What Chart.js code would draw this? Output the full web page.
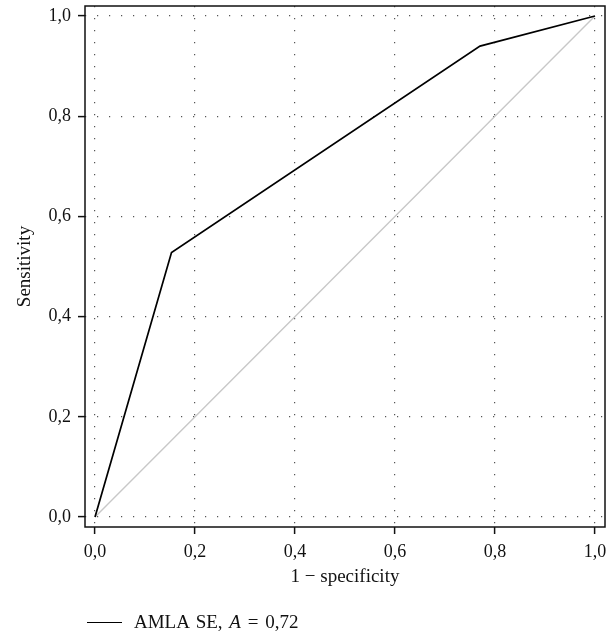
<!DOCTYPE html>
<html>
<head>
<meta charset="utf-8">
<script src="https://cdn.jsdelivr.net/npm/chart.js@4"></script>
<style>
  body { margin: 0; background: #fff; }
  #wrap { position: relative; width: 616px; height: 637px; }
  #legend {
    position: absolute; left: 87px; top: 611px;
    font: 19px "Liberation Serif", serif; color: #111;
    display: flex; align-items: center; word-spacing: 2px;
  }
  #legend .swatch { display: inline-block; width: 35px; border-top: 1.5px solid #000; margin-right: 12px; }
</style>
</head>
<body>
<div id="wrap">
  <canvas id="roc" width="616" height="637"></canvas>
  <div id="legend"></div>
</div>
<script>
// ROC curve points
const fpr = [0, 0.153, 0.77, 1.0]
const tpr = [0, 0.528, 0.94, 1.0]
// chance diagonal
const diagX = [0, 1]
const diagY = [0, 1]
const tickValues = [0, 0.2, 0.4, 0.6, 0.8, 1.0]
const seriesLabel = "AMLA SE"
const aucText = "0,72"
const xTitle = "1 − specificity"
const yTitle = "Sensitivity"

const tickFont = { family: "'Liberation Serif', serif", size: 18 }
const titleFont = { family: "'Liberation Serif', serif", size: 19 }

function fmt(v) {
    return v.toFixed(1).replace('.', ',')
}

function toPoints(xs, ys) {
    return xs.map((x, i) => ({ x: x, y: ys[i] }))
}

// draw the full box round the plot area
const boxPlugin = {
    id: 'box',
    afterDraw(chart) {
        const a = chart.chartArea
        const c = chart.ctx
        c.save()
        c.strokeStyle = '#111'
        c.lineWidth = 1.5
        c.strokeRect(a.left, a.top, a.right - a.left, a.bottom - a.top)
        c.restore()
    }
}

function axis(title, titlePadding, fit) {
    return {
        type: 'linear',
        min: -0.02,
        max: 1.02,
        afterBuildTicks: (s) => { s.ticks = tickValues.map(v => ({ value: v })) },
        afterFit: fit,
        ticks: {
            callback: (v) => fmt(v),
            color: '#111',
            font: tickFont,
            padding: 7
        },
        grid: {
            color: '#555',
            lineWidth: 1.2,
            tickColor: '#111',
            tickLength: 7,
            tickWidth: 1.5,
            tickBorderDash: []
        },
        border: {
            display: false,
            dash: [1.2, 10.8]
        },
        title: {
            display: true,
            text: title,
            color: '#111',
            font: titleFont,
            padding: titlePadding
        }
    }
}

new Chart(document.getElementById('roc'), {
    type: 'scatter',
    data: {
        datasets: [
            {
                label: seriesLabel,
                data: toPoints(fpr, tpr),
                showLine: true,
                borderColor: '#000',
                borderWidth: 1.7,
                pointRadius: 0,
                tension: 0
            },
            {
                label: 'diagonal',
                data: toPoints(diagX, diagY),
                showLine: true,
                borderColor: '#c8c8c8',
                borderWidth: 1.4,
                pointRadius: 0
            }
        ]
    },
    options: {
        responsive: false,
        animation: false,
        layout: { padding: { left: 0, top: 6, right: 11, bottom: 40 } },
        plugins: {
            legend: { display: false },
            tooltip: { enabled: false }
        },
        scales: {
            x: axis(xTitle, { top: 0, bottom: 9 }, (s) => {
                s.height = 70
                s.paddingLeft = 0
                s.paddingRight = 0
            }),
            y: axis(yTitle, { top: 14, bottom: 0 }, (s) => {
                s.width = 85
                s.paddingTop = 0
                s.paddingBottom = 0
            })
        }
    },
    plugins: [boxPlugin]
})

document.getElementById('legend').innerHTML =
    '<span class="swatch"></span><span>' + seriesLabel + ', <i>A</i> = ' + aucText + '</span>'
</script>
</body>
</html>
